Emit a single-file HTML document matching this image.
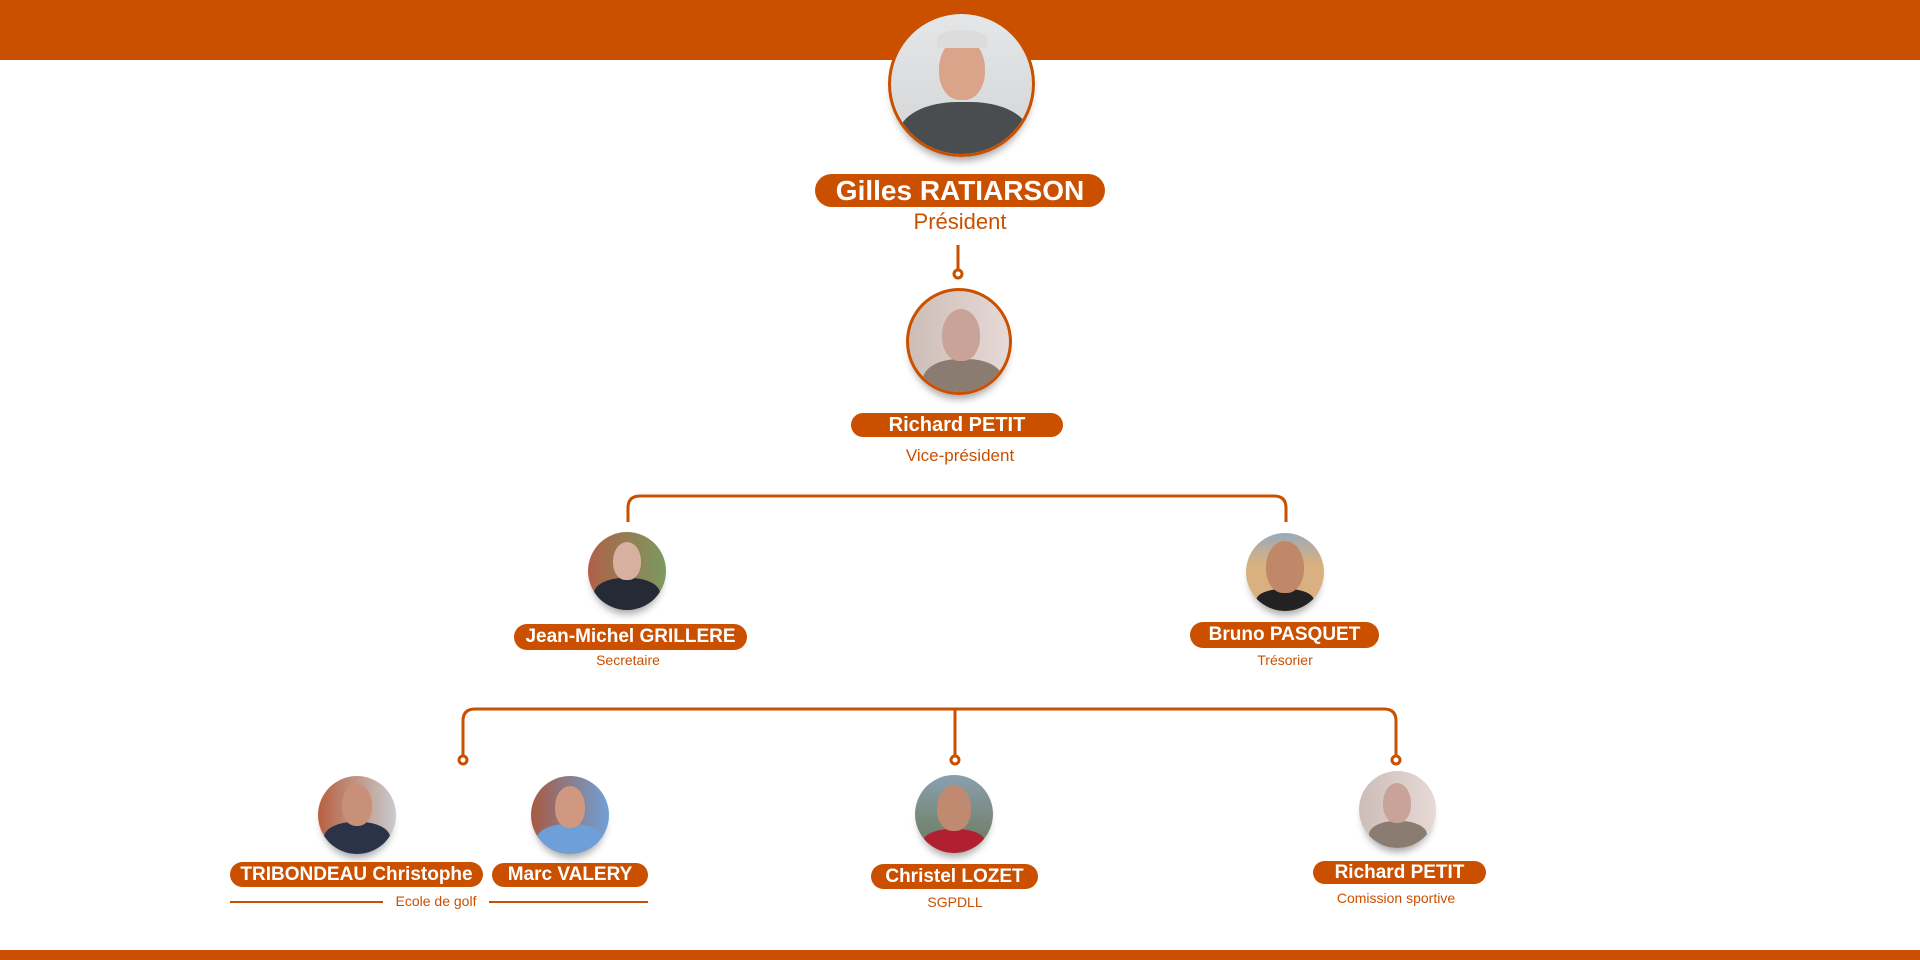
<!DOCTYPE html>
<html><head><meta charset="utf-8"><style>
*{margin:0;padding:0;box-sizing:border-box}
body{width:1920px;height:960px;background:#fff;position:relative;overflow:hidden;font-family:"Liberation Sans",sans-serif}
.bar{position:absolute;left:0;width:1920px;background:#CA5000}
.ph{position:absolute;border-radius:50%;overflow:hidden;box-shadow:0 8px 8px -4px rgba(0,0,0,.35)}
.ph .head{position:absolute;border-radius:50% 50% 45% 45%;background:#d9a48a}
.ph .hair{position:absolute;border-radius:50% 50% 0 0}
.ph .body{position:absolute;border-radius:45% 45% 0 0}
.pill{position:absolute;background:#CA5000;color:#fff;font-weight:bold;border-radius:999px;text-align:center;white-space:nowrap}
.role{position:absolute;color:#CA5000;text-align:center;white-space:nowrap}
</style></head><body>
<div class="bar" style="top:0;height:60px"></div>
<div class="bar" style="top:950px;height:10px"></div>

<svg width="1920" height="960" style="position:absolute;left:0;top:0" fill="none" stroke="#CA5000" stroke-width="3">
<line x1="958" y1="245" x2="958" y2="270"/>
<circle cx="958" cy="274" r="4" fill="#fff"/>
<path d="M628 522 V508 Q628 496 640 496 H1274 Q1286 496 1286 508 V522"/>
<path d="M463 756 V721 Q463 709 475 709 H1384 Q1396 709 1396 721 V756"/>
<line x1="955" y1="709" x2="955" y2="756"/>
<circle cx="463" cy="760" r="4" fill="#fff"/>
<circle cx="955" cy="760" r="4" fill="#fff"/>
<circle cx="1396" cy="760" r="4" fill="#fff"/>
<line x1="230" y1="902" x2="383" y2="902" stroke-width="2"/>
<line x1="489" y1="902" x2="648" y2="902" stroke-width="2"/>
</svg>

<!-- President -->
<div class="ph" style="left:888px;top:11px;width:147px;height:146px;border:3px solid #CA5000;background:linear-gradient(#e4e6e8,#d2d4d6)">
 <div class="body" style="left:8px;top:88px;width:130px;height:70px;background:#4a4d4f"></div>
 <div class="head" style="left:48px;top:24px;width:46px;height:62px"></div>
 <div class="hair" style="left:46px;top:16px;width:50px;height:18px;background:#dcdcdc"></div>
</div>
<div class="pill" style="left:815px;top:174px;width:290px;height:33px;font-size:28px;line-height:33px">Gilles RATIARSON</div>
<div class="role" style="left:760px;top:208px;width:400px;font-size:22px;line-height:28px">Président</div>

<!-- VP -->
<div class="ph" style="left:906px;top:288px;width:106px;height:107px;border:3px solid #CA5000;background:linear-gradient(90deg,#cdbdb7,#e6d9d6)">
 <div class="body" style="left:14px;top:68px;width:80px;height:45px;background:#8a7c70"></div>
 <div class="head" style="left:33px;top:18px;width:38px;height:52px;background:#c9a398"></div>
</div>
<div class="pill" style="left:851px;top:413px;width:212px;height:24px;font-size:20px;line-height:24px">Richard PETIT</div>
<div class="role" style="left:760px;top:446px;width:400px;font-size:17px;line-height:20px">Vice-président</div>

<!-- Jean-Michel -->
<div class="ph" style="left:588px;top:532px;width:78px;height:78px;background:linear-gradient(90deg,#b06048,#7a9a60)">
 <div class="body" style="left:6px;top:46px;width:66px;height:34px;background:#252a36"></div>
 <div class="head" style="left:25px;top:10px;width:28px;height:38px;background:#d8b0a0"></div>
</div>
<div class="pill" style="left:514px;top:624px;width:233px;height:26px;font-size:19px;line-height:26px">Jean-Michel GRILLERE</div>
<div class="role" style="left:528px;top:652px;width:200px;font-size:14px;line-height:17px">Secretaire</div>

<!-- Bruno -->
<div class="ph" style="left:1246px;top:533px;width:78px;height:78px;background:linear-gradient(#9ab,#d9b080 40%)">
 <div class="body" style="left:10px;top:56px;width:58px;height:26px;background:#222"></div>
 <div class="head" style="left:20px;top:8px;width:38px;height:52px;background:#c08868"></div>
</div>
<div class="pill" style="left:1190px;top:622px;width:189px;height:26px;font-size:19px;line-height:26px">Bruno PASQUET</div>
<div class="role" style="left:1185px;top:652px;width:200px;font-size:14px;line-height:17px">Trésorier</div>

<!-- Tribondeau -->
<div class="ph" style="left:318px;top:776px;width:78px;height:78px;background:linear-gradient(90deg,#b86040,#c8ccd0)">
 <div class="body" style="left:6px;top:46px;width:66px;height:34px;background:#2a3348"></div>
 <div class="head" style="left:24px;top:8px;width:30px;height:42px;background:#c89078"></div>
</div>
<div class="pill" style="left:230px;top:862px;width:253px;height:25px;font-size:19px;line-height:25px">TRIBONDEAU Christophe</div>

<!-- Marc -->
<div class="ph" style="left:531px;top:776px;width:78px;height:78px;background:linear-gradient(90deg,#a85a40,#70a0d8)">
 <div class="body" style="left:6px;top:48px;width:66px;height:32px;background:#6f9fd8"></div>
 <div class="head" style="left:24px;top:10px;width:30px;height:42px;background:#d09880"></div>
</div>
<div class="pill" style="left:492px;top:863px;width:156px;height:24px;font-size:19px;line-height:24px">Marc VALERY</div>
<div class="role" style="left:383px;top:893px;width:106px;font-size:14px;line-height:17px">Ecole de golf</div>

<!-- Christel -->
<div class="ph" style="left:915px;top:775px;width:78px;height:78px;background:linear-gradient(#8aa0b0,#6a7858)">
 <div class="body" style="left:8px;top:54px;width:62px;height:28px;background:#b02030"></div>
 <div class="head" style="left:22px;top:10px;width:34px;height:46px;background:#c08a70"></div>
</div>
<div class="pill" style="left:871px;top:864px;width:167px;height:25px;font-size:19px;line-height:25px">Christel LOZET</div>
<div class="role" style="left:855px;top:894px;width:200px;font-size:14px;line-height:17px">SGPDLL</div>

<!-- Richard 2 -->
<div class="ph" style="left:1359px;top:771px;width:77px;height:77px;background:linear-gradient(90deg,#cdbdb7,#e6d9d6)">
 <div class="body" style="left:10px;top:50px;width:58px;height:30px;background:#8a7c70"></div>
 <div class="head" style="left:24px;top:12px;width:28px;height:40px;background:#c9a398"></div>
</div>
<div class="pill" style="left:1313px;top:861px;width:173px;height:23px;font-size:19px;line-height:23px">Richard PETIT</div>
<div class="role" style="left:1296px;top:890px;width:200px;font-size:14px;line-height:17px">Comission sportive</div>
</body></html>
